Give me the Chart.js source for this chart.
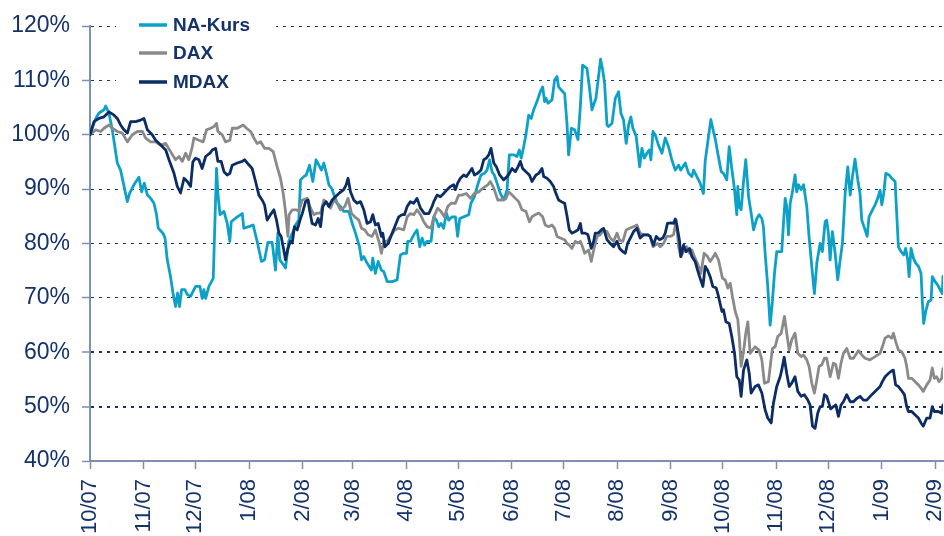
<!DOCTYPE html>
<html>
<head>
<meta charset="utf-8">
<script src="https://cdn.jsdelivr.net/npm/chart.js@4/dist/chart.umd.min.js"></script>
<style>
  html, body { margin: 0; padding: 0; background: #fff; }
  #wrap { width: 944px; height: 536px; position: relative; }
</style>
</head>
<body>
<div id="wrap"><canvas id="chart"></canvas></div>
<script>
// x = days since 1 Oct 2007, y = index in % (start = 100)
const monthLabels = ['10/07', '11/07', '12/07', '1/08', '2/08', '3/08', '4/08', '5/08', '6/08',
  '7/08', '8/08', '9/08', '10/08', '11/08', '12/08', '1/09', '2/09'];
const monthStartDays = [0, 31, 61, 92, 123, 152, 183, 213, 244, 274, 305, 336, 366, 397, 427, 458, 489];
const yTicks = [40, 50, 60, 70, 80, 90, 100, 110, 120];

const naKurs = [[0,100],[3.3,103],[5.2,104],[8.1,104.6],[9.1,105.3],[11,103.9],[12.9,100.9],[15.8,94.8],
  [17.7,93.5],[19.7,90.5],[21.6,87.7],[22.9,89.2],[25.4,90.8],[28.3,92.2],[29.9,89.5],[31.4,91.1],[33.2,88.9],
  [35.1,88.3],[37,87.4],[38.4,85.5],[39.5,82.8],[42.2,81.9],[43.4,81],[44.7,77],[46.6,73.9],[48,70.9],[49.5,68.4],
  [50.7,70.9],[51.8,68.4],[53,71.5],[54.9,71.5],[56.3,70.6],[58.2,70.3],[61.1,72.1],[63.6,72.1],[64.9,69.9],
  [65.9,71.5],[66.9,69.9],[68.8,72.1],[71.3,73.6],[73.2,93.8],[74,89.2],[75.2,85.3],[77.5,85.9],[79.4,83.7],
  [80.9,80.4],[81.7,84],[85.2,84.9],[88.1,85.5],[89,82.8],[91.9,83.1],[94.4,83.4],[96.7,80.4],[99.2,76.7],
  [101,77],[102.9,80.2],[105.4,80.2],[107.3,75.1],[108.7,81.9],[109.8,77],[111.2,76.4],[113.1,75.5],[115,80.4],
  [117.9,82.5],[118.9,83.4],[120.8,84.3],[121.8,91.7],[123.7,92.3],[125.1,92.6],[127,94.4],[128.9,91.4],
  [130.8,95.4],[132.4,94.4],[133.9,93.5],[135.3,94.8],[137.2,92.3],[138.2,90.8],[139.7,90.2],[141.6,88.6],
  [143,87.4],[144.9,86.8],[146.8,85.9],[149.7,85.9],[152,83.4],[153.6,81.9],[155.9,79.4],[157.1,77],[158.4,77.6],
  [160.3,76.4],[162.8,75.1],[163.6,77.3],[165.1,74.5],[166.7,76.7],[168.6,75.1],[170,74.8],[171.9,73],[174.8,73],
  [177.7,73.3],[179.6,77.9],[181.5,78.2],[183.1,78.2],[183.8,80.4],[185.4,80.4],[187.3,81.6],[189.2,82.5],
  [190.8,79.4],[192.1,81],[193.5,79.7],[195,80.4],[197.3,80.4],[198.9,84.9],[200.4,84.3],[201.8,83.1],
  [203.1,83.7],[204.6,82.8],[206.2,85.6],[207.5,84.3],[209.5,84.9],[211.4,84.9],[212.7,81.3],[213.9,84.6],
  [216.2,84.9],[219.1,85.3],[220.4,87.4],[222.4,88.6],[224.3,90.8],[226.2,92.6],[228.2,92.9],[229.7,93.5],
  [231.2,95.4],[232.6,93.2],[233.9,92.6],[235.5,91.1],[237.4,89.2],[239.3,88],[240.3,88.9],[241.3,89.9],
  [242.6,96.3],[245.1,96.3],[247,96],[248.4,97.2],[249.5,95.7],[250.9,97.8],[252.2,100],[253.8,103.6],
  [255.3,103],[256.7,104.6],[258.6,106.1],[260.5,107.9],[261.9,108.8],[263,106.1],[263.8,106.7],[265,105.8],
  [267.3,106.4],[268.8,110.1],[270.2,110.7],[271.1,108.8],[272.7,108.2],[274.6,107.6],[276,101.8],[276.9,96.3],
  [278.5,101.2],[280.4,100.9],[282.3,99.1],[283.7,105.2],[285,112.8],[287.5,112.2],[288.9,108.8],[290.4,104.6],
  [292.7,106.7],[294.2,110.7],[295.4,113.9],[296.6,111.9],[297.7,109.5],[299.1,101.8],[300,101.5],[302,102.1],
  [303.9,106.7],[305.8,107.9],[307.2,103.9],[308.7,102.7],[310.2,98.4],[311.6,101.8],[312.9,103.3],[314.1,101.2],
  [316,99.7],[318,94.1],[319.3,97.5],[320.7,95.7],[322.2,96.6],[323.7,97.2],[324.5,95.4],[325.7,100.6],[327,100],
  [328.9,98.1],[330.9,96.6],[332.8,99.4],[334.7,97.8],[336.6,95.4],[338.6,93.5],[340.5,94.4],[341.8,93.5],
  [344.4,94.8],[346.3,92.9],[348.2,92.3],[349.2,93.5],[351.1,92.3],[353,91.1],[354.9,89.2],[355.9,95.1],
  [357.3,98.4],[359.2,102.8],[360.7,100.6],[361.7,99.3],[363.2,96.6],[365.2,93.2],[366.5,92.9],[368.4,91.7],
  [369.8,97.8],[371.3,93.8],[372.9,89.9],[374.2,85.3],[374.8,90.5],[375.6,86.8],[376.7,86.2],[378.1,91.4],
  [379.4,95.4],[381,88.6],[382.5,85.6],[383.9,82.5],[385.8,84.6],[387.1,85.3],[388.7,84.6],[389.6,83.1],
  [390.6,78.2],[392.1,72.1],[393.5,65],[394.8,69.3],[396,74.5],[397.3,78.5],[400.2,78.5],[401.2,83.7],
  [402.2,88.3],[403.1,86.8],[404.1,81.6],[405.1,87.4],[406.4,89.5],[407.9,92.6],[408.9,89.5],[409.9,90.8],
  [411.4,89.9],[412.8,90.8],[414.7,86.8],[416,81.3],[417.6,75.7],[419.1,70.8],[420.5,76.4],[422.4,80],
  [423.7,78.5],[425.3,84],[426.2,84.3],[427.2,81.9],[428.2,77],[429.5,82.2],[431.1,78.2],[432.6,73.3],[434,77],
  [435.3,80],[436.9,89.2],[438.4,94.1],[439.8,88.9],[441.1,92.3],[442.6,95.5],[444.2,91.7],[445.5,89.2],
  [446.5,84.3],[448.4,82.5],[449.6,81.3],[450.7,84.9],[452.7,86.2],[454.2,87.1],[455.7,88.3],[457.1,89.8],
  [458.1,87.1],[459.2,89.2],[460.4,92.9],[462.3,92.6],[463.8,92],[465.8,91.4],[466.7,85.6],[467.7,79.4],
  [469.2,78.5],[470.8,77.9],[471.9,79.1],[473.1,77],[473.9,73.9],[475,79.1],[476.4,77.3],[477.7,76.4],
  [479.3,75.8],[480.8,74.5],[481.6,69],[482.3,65.3],[483.5,67.5],[485,69.3],[486.6,69.6],[487.3,73.9],
  [488.9,73],[490.4,72.4],[491.8,71.5],[493.1,70.8],[493.5,74]];

const dax = [[0,100],[3.3,100.9],[6.2,100.6],[8.1,101.2],[11,101.8],[12.9,101.2],[15.8,100.6],[18.7,100.3],
  [21.6,98.7],[24.5,100],[27.4,100.6],[30.3,100.6],[32.2,99.4],[35.1,98.7],[38,98.7],[40.9,98.1],[43.8,98.4],
  [46.6,96.9],[49.5,95.4],[51.5,96],[53.4,95.1],[55.3,96.6],[57.2,95.4],[59.2,97.8],[60.1,99.4],[63,99],
  [65.5,98.7],[67.4,100.9],[69.8,101.2],[71.7,101.5],[73.2,102.1],[74,100.6],[76.5,100],[78.4,98.7],[80.9,99],
  [82.3,101.2],[85.2,101.2],[88.6,101.8],[90.6,101.2],[92.9,100.6],[94.8,99.4],[96.7,98.4],[98.7,98.7],
  [101,97.5],[103.5,97.5],[106,96.9],[108.3,94.1],[110.2,92],[111.8,89.2],[113.1,85.9],[114.5,81.3],[115.2,85.3],
  [117,86.2],[119.5,86.2],[120.8,85.9],[122.8,88],[125.6,88.3],[127.6,86.5],[129.5,85.3],[131.4,85.6],
  [133.4,85.6],[135.3,88],[137.2,87.4],[139.1,86.5],[141.1,88],[143,87.4],[144.9,86.2],[147.4,86.8],[149.3,88.3],
  [151.3,85.5],[153.2,84.9],[155.5,84.3],[157.1,82.8],[159,82.5],[160.9,81.6],[163.2,81.3],[165.1,82.5],
  [167.1,80.4],[168.6,78.2],[170,80.4],[171.9,80.4],[173.8,81.3],[176.3,82.5],[178.6,82.8],[181.5,82.5],
  [183.5,84.9],[185.4,85.5],[187.3,85.3],[189.2,86.2],[191.2,85.3],[193.1,84],[195,83.1],[197.3,82.8],
  [198.9,84.9],[201.2,86.5],[203.1,85.9],[205,84.9],[207,86.8],[208.9,87.4],[211.4,87.4],[213.3,88.9],
  [215.2,88.9],[217.7,89.2],[220.1,88.3],[222.4,89.2],[224.9,89.5],[227.4,90.2],[230.1,90.8],[231.6,91.4],
  [233.6,90.2],[235.9,88],[238.4,88],[240.5,88.2],[242.2,89.5],[244.2,88.9],[246.1,88.3],[248,87.7],[249.9,86.2],
  [252.2,85.9],[254.2,84],[255.7,84.9],[257.6,85.3],[259.6,85.6],[261.9,84.9],[263.4,83.4],[265.3,83.1],
  [267.3,83.4],[268.8,82.8],[270.2,81.3],[272.1,81],[274.6,80.7],[276,80],[277.3,79.7],[278.8,79.1],[280.8,80.4],
  [282.3,80.1],[283.7,80.4],[284.6,79.7],[286.2,78.2],[288.5,78.8],[290,76.7],[291.4,78.8],[293.3,81.3],
  [295.2,81.6],[297.1,82.5],[299.1,82.2],[301,81],[302.9,80.4],[304.9,81.9],[306.4,80.6],[308.3,80.4],
  [310.2,82.5],[312.2,82.8],[314.5,83.1],[316.4,83.4],[318.3,81.9],[320.3,81.6],[322.6,81.6],[324.1,81.3],
  [325.7,79.4],[327,79.7],[328.4,80],[329.9,79.4],[331.8,80],[333.8,81.3],[335.7,81.3],[337.6,81.6],[339.2,84.3],
  [340.5,79.4],[341.8,77.6],[343.4,78.5],[345.3,79.4],[346.9,78.2],[348.2,78.8],[350.1,77.3],[352.1,75.8],
  [353.4,74.5],[355.3,78.2],[357.3,77.6],[358.8,76.7],[360.7,77.6],[361.7,78.2],[363.6,77],[365.9,73.6],
  [367.5,73.3],[369,71.8],[370.4,72.7],[371.7,70.2],[373.3,67.5],[374.8,66],[375.6,62.9],[376.7,57.4],
  [378.1,60.1],[379.4,63.5],[380.6,65.6],[381.9,59.8],[383.3,60.4],[384.8,61],[387.1,60.4],[388.7,58.6],
  [390.2,54.3],[392.5,54.6],[394.8,60.7],[396.4,61],[397.9,62.9],[399.9,63.5],[401.8,66.6],[403.1,63.5],
  [404.5,60.4],[406,62.3],[407.9,63.5],[409.5,59.8],[411.4,59.2],[412.8,59.5],[414.7,58.6],[416,57.4],
  [417.6,54.3],[419.1,52.5],[420.5,54.9],[421.8,57.4],[423.4,57.7],[424.9,58.9],[426.2,58.9],[428.2,55.5],
  [430.1,58],[431.5,57.7],[433,55.2],[434.5,58],[435.9,59.8],[437.8,60.7],[439.8,58.9],[441.7,58.9],[443.6,59.8],
  [444.6,60.3],[446.5,59.5],[448.4,58.9],[451.3,58.6],[454.2,59.2],[457.1,59.8],[458.4,61],[460,62.6],[461.9,63],
  [463.8,62.6],[464.8,63.5],[466.1,62],[467.7,60.4],[469.6,60.1],[471.5,58.9],[472.5,57.4],[473.5,55.2],
  [475.4,55.2],[477.3,54.6],[479.3,54],[480.8,53.4],[482.1,52.8],[484.1,54],[486,54.9],[487.3,57.1],[488.5,55.2],
  [489.8,55.5],[491.2,54.6],[492.7,55.2],[493.5,57]];

const mdax = [[0,100],[2.3,102.4],[5.2,103],[8.1,103.3],[11,104.2],[13.9,103.6],[15.8,103],[17.7,101.8],
  [19.7,100.9],[21.6,100.3],[23.5,102.4],[26.4,102.4],[29.3,102.7],[31.2,103],[33.2,100.9],[36,100],[38,99],
  [40.9,98.1],[43.8,97.2],[45.7,95.4],[48.6,92.9],[50.5,90.5],[52.4,89.3],[54.4,92],[56.3,91.4],[58.2,90.5],
  [59.5,95],[61.1,95.7],[63,95.4],[64.9,93.8],[66.9,96],[69.4,96.6],[70.7,97.2],[72.7,97.5],[74,95.1],[75.9,95.1],
  [77.5,93.2],[79.4,92.6],[80.9,92.9],[82.3,94.4],[85.2,94.8],[88.1,95.1],[89.4,95.4],[91,94.8],[93.8,93.8],
  [95.8,91.4],[97.7,88.9],[99.6,88],[101,87.1],[102.5,84.3],[104.4,85.3],[106.4,86.2],[107.9,84.3],[109.3,81.9],
  [110.6,81.3],[112.1,78.8],[113.1,77],[114.5,79.1],[116,80.4],[117,80.1],[118.3,83.1],[119.9,82.5],[121.8,84.6],
  [122.8,85.5],[124.7,87.7],[126.2,88],[127,86.2],[128.5,83.7],[130.5,83.4],[132,84.6],[133.4,83.1],[134.7,86.8],
  [136.6,87.7],[138.2,86.8],[140.1,88],[142,88.6],[144,89.2],[146.8,89.9],[148.2,90.8],[149.3,92],[150.7,89.5],
  [152.6,88],[154.5,87.4],[156.5,87.7],[158.4,86.2],[160.3,83.7],[162.3,84],[163.6,85.3],[165.1,83.4],
  [166.7,83.7],[168.6,81.3],[169.4,81.9],[170.6,79.4],[172.5,80],[174.8,81.9],[176.7,83.4],[178.6,84.9],
  [180.6,85.3],[181.9,85.3],[183.5,86.8],[185.4,87.7],[187.3,87.4],[189.2,88.3],[191.2,86.5],[193.5,85.5],
  [196,85.5],[197.9,86.8],[198.9,87.7],[200.8,88.9],[202.7,88.6],[204.6,89.2],[206.6,89.9],[208.5,90.5],
  [210.4,90.8],[211.4,89.9],[212.7,91.1],[214.3,92],[216.2,92.6],[217.7,92.3],[219.7,93.2],[221,93.8],
  [222.4,92.6],[224.3,92.9],[226.2,93.5],[227.8,95.4],[229.3,95.7],[230.7,96.3],[232,97.5],[233.6,94.8],
  [235.1,94.1],[237,92.6],[239.3,91.7],[241.3,92.3],[242.6,92.9],[244.2,93.8],[246.1,93.2],[247.6,94.1],
  [249,95.1],[250.3,93.8],[252.2,93.2],[254.2,92.6],[255.7,91.4],[258,92.6],[259.6,92.9],[261.5,93.8],
  [262.5,92.3],[264.4,92],[266.3,91.4],[268.2,90.5],[269.2,89.5],[271.1,88],[272.7,87.7],[274.6,87.4],[276,85],
  [277.3,82.5],[278.8,81.9],[280.8,82.2],[282.3,82.5],[283.7,83.7],[284.6,81.9],[286.5,81.9],[288.1,81.6],
  [290,79.1],[291.4,80.4],[292.3,81.9],[293.9,81.9],[295.8,82.5],[297.1,82.8],[299.1,80.7],[301,80],[302.9,79.4],
  [304.9,80.4],[306.4,79.1],[308.3,78.5],[309.7,78.2],[311,80],[312.6,81],[314.5,82.2],[316.4,82.8],[318.3,81],
  [320.3,81.6],[322.6,81.6],[324.1,81.3],[326,79.7],[327.6,81.3],[329.5,80.7],[331.4,81],[332.8,81.9],
  [334.1,83.7],[336.1,83.8],[337.6,83.7],[338.6,84.5],[339.5,83.4],[341.1,80.4],[341.8,77.6],[343.4,79.7],
  [344.9,78.5],[346.9,79.1],[348.2,77.6],[350.1,76.7],[351.5,75.1],[353,73.6],[354.6,72.1],[355.9,75.8],
  [357.3,75.1],[358.8,73.9],[360.3,72.1],[362.3,71.8],[363.6,70.3],[365.6,67.5],[366.5,67.8],[367.9,65.6],
  [369.8,65.3],[371.3,62.9],[372.9,59.8],[374.2,55.5],[375.6,54.9],[376.7,51.9],[378.1,56.7],[380,58.6],
  [381.4,56.1],[382.5,52.5],[384.8,53.7],[386.7,54],[388.7,52.5],[390.6,49.4],[392.1,47.9],[394.1,47],
  [395.4,50.6],[397.3,53.7],[399.3,55.5],[400.2,56.7],[401.6,59.1],[403.1,56.1],[404.5,53.7],[406,54.3],
  [407.9,55.5],[409.5,52.8],[411.4,51.9],[413.3,52.2],[415.3,51.2],[416.6,50.3],[418,46.4],[419.5,46],[421,48.8],
  [422.4,50],[423.7,50],[424.9,52.2],[426.2,51.9],[428.5,49.6],[430.1,50],[431.5,50.3],[433,48.2],[434.5,50.3],
  [435.9,50.9],[437.8,52.2],[439.8,50.9],[441.7,50.9],[443.6,51.5],[445.5,51.9],[447.5,51.2],[449.4,51.2],
  [452.3,52.2],[455.2,53.1],[457.1,53.7],[458.4,54.6],[460,55.5],[461.9,56.1],[463.8,56.6],[464.8,56.7],
  [466.1,54],[467.7,53.7],[469.2,53.1],[471.2,52.2],[472.5,50],[473.5,49.1],[475.4,49.1],[477.3,48.5],
  [479.3,47.9],[480.8,47],[482.1,46.4],[484.1,47.9],[486,47.9],[487.3,50],[488.5,49.1],[490.8,49.1],
  [492.7,48.8],[493.5,50.3]];

const seriesNames = ['NA-Kurs', 'DAX', 'MDAX'];
const seriesColors = ['#0ea1c7', '#8a8a8a', '#0b2d63'];
const textColor = '#14326b';
const axisColor = '#7d8fb3';
const fontFamily = '"Liberation Sans", Arial, sans-serif';

const toPoints = arr => arr.map(p => ({ x: p[0], y: p[1] }));

// legend sits inside the plot on a white box, like the original
const legendBox = {
  id: 'legendBox',
  afterDatasetsDraw(chart) {
    const c = chart.ctx;
    c.save();
    c.fillStyle = '#ffffff';
    c.fillRect(116, 10, 160, 86);
    c.font = 'bold 19px ' + fontFamily;
    c.textBaseline = 'middle';
    [25, 53, 82].forEach((y, i) => {
      c.strokeStyle = seriesColors[i];
      c.lineWidth = 3.5;
      c.beginPath();
      c.moveTo(139, y);
      c.lineTo(167, y);
      c.stroke();
      c.fillStyle = textColor;
      c.fillText(seriesNames[i], 173, y + 1);
    });
    c.restore();
  }
};

const ctx = document.getElementById('chart').getContext('2d');

new Chart(ctx, {
  type: 'line',
  data: {
    datasets: [
      { label: seriesNames[0], data: toPoints(naKurs), borderColor: seriesColors[0], order: 3 },
      { label: seriesNames[1], data: toPoints(dax), borderColor: seriesColors[1], order: 2 },
      { label: seriesNames[2], data: toPoints(mdax), borderColor: seriesColors[2], order: 1 }
    ]
  },
  options: {
    responsive: true,
    maintainAspectRatio: false,
    animation: false,
    devicePixelRatio: 1,
    layout: { padding: { top: 26, right: 1, left: 0, bottom: 0 } },
    elements: {
      point: { radius: 0 },
      line: { borderWidth: 2.8, tension: 0, borderJoinStyle: 'round', borderCapStyle: 'round' }
    },
    plugins: {
      legend: { display: false },
      tooltip: { enabled: false }
    },
    scales: {
      x: {
        type: 'linear',
        min: 0,
        max: 493.5,
        afterBuildTicks: s => { s.ticks = monthStartDays.map(v => ({ value: v })); },
        afterFit: s => { s.height = 75; s.paddingLeft = 0; s.paddingRight = 0; },
        grid: {
          drawOnChartArea: false,
          drawTicks: true,
          tickLength: 8,
          tickColor: axisColor,
          tickWidth: 1.5
        },
        border: { display: true, color: axisColor, width: 2 },
        ticks: {
          autoSkip: false,
          maxRotation: 90,
          minRotation: 90,
          padding: 10,
          color: textColor,
          font: { family: fontFamily, size: 22 },
          callback: (v, i) => monthLabels[i]
        }
      },
      y: {
        min: 40,
        max: 120,
        afterBuildTicks: s => { s.ticks = yTicks.map(v => ({ value: v })); },
        afterFit: s => { s.width = 90; s.paddingTop = 0; s.paddingBottom = 0; },
        grid: {
          color: c => (c.tick && c.tick.value === 40) ? 'rgba(0,0,0,0)' : '#17336b',
          lineWidth: c => (c.tick && (c.tick.value === 50 || c.tick.value === 60)) ? 2 : 1,
          drawTicks: true,
          tickLength: 8,
          tickColor: axisColor,
          tickWidth: 1.5,
          tickBorderDash: []
        },
        border: { display: true, color: axisColor, width: 2, dash: [3, 5] },
        ticks: {
          padding: 12,
          color: textColor,
          font: { family: fontFamily, size: 23 },
          callback: v => v + '%'
        }
      }
    }
  },
  plugins: [legendBox]
});
</script>
</body>
</html>
